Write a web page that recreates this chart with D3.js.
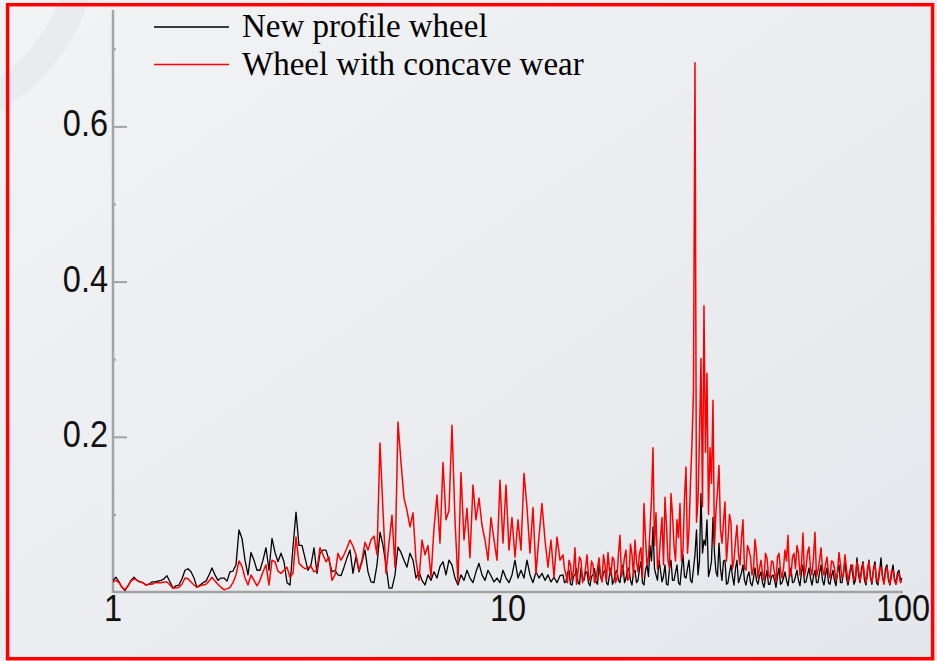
<!DOCTYPE html>
<html>
<head>
<meta charset="utf-8">
<script src="https://cdn.jsdelivr.net/npm/d3@7"></script>
<style>
    body { margin: 0; background: #eceef1; }
    .chart svg { display: block; }
</style>
</head>
<body>
<div class="chart"></div>
<script>
// frequency bins, log spaced starting at 1 Hz
const f_start = 1
const bins_per_decade = 131.67
// above this bin the spectrum also has half-step bins (dense part)
const fine_from = 150

const x_ticks = [1, 10, 100]
const y_ticks = [0.2, 0.4, 0.6]
const y_minor_ticks = [0.1, 0.3, 0.5, 0.7]
const series_names = ["New profile wheel", "Wheel with concave wear"]

const new_wheel = [
    0.015, 0.019, 0.013, 0.006, 0.002, 0.008, 0.015, 0.019, 0.015, 0.013,
    0.012, 0.009, 0.010, 0.013, 0.013, 0.014, 0.015, 0.017, 0.021, 0.013,
    0.005, 0.008, 0.009, 0.017, 0.028, 0.030, 0.026, 0.018, 0.006, 0.009,
    0.012, 0.014, 0.022, 0.031, 0.022, 0.015, 0.018, 0.018, 0.014, 0.026,
    0.027, 0.035, 0.080, 0.069, 0.041, 0.022, 0.051, 0.041, 0.028, 0.028,
    0.041, 0.057, 0.028,
    0.069, 0.051, 0.039, 0.050, 0.039, 0.012, 0.009, 0.058, 0.103, 0.060,
    0.060, 0.044, 0.028, 0.035, 0.057, 0.024, 0.050, 0.054, 0.054, 0.041,
    0.026, 0.028, 0.022, 0.021, 0.032, 0.044, 0.054, 0.024, 0.046, 0.026,
    0.039, 0.054, 0.026, 0.013, 0.012, 0.035, 0.077, 0.060, 0.035, 0.005,
    0.005, 0.022, 0.058, 0.051, 0.041, 0.032, 0.050,
    0.041, 0.018, 0.026, 0.015, 0.009, 0.022, 0.015, 0.026, 0.018, 0.033,
    0.039, 0.022, 0.041, 0.035, 0.018, 0.009, 0.022, 0.015, 0.028, 0.018,
    0.012, 0.026, 0.037, 0.022, 0.015, 0.028, 0.021, 0.013, 0.018, 0.012,
    0.028, 0.018, 0.012, 0.022, 0.041, 0.018, 0.028, 0.018, 0.041, 0.022,
    0.012, 0.026, 0.018, 0.024, 0.015, 0.022, 0.013, 0.019, 0.012, 0.021,
    0.022, 0.013, 0.028, 0.009, 0.022, 0.012, 0.031, 0.015, 0.026, 0.008,
    0.022, 0.013, 0.035, 0.015, 0.028, 0.009, 0.031, 0.015, 0.028, 0.012,
    0.035, 0.018, 0.031, 0.009, 0.028, 0.015, 0.039, 0.009, 0.035, 0.060,
    0.084, 0.022, 0.041, 0.013, 0.035, 0.009, 0.041, 0.015, 0.035, 0.009,
    0.048, 0.018, 0.041, 0.012, 0.048, 0.022, 0.127, 0.067, 0.093, 0.028,
    0.096, 0.026, 0.063, 0.015, 0.041, 0.012, 0.035, 0.009, 0.041, 0.018,
    0.035, 0.009, 0.026, 0.008, 0.031, 0.010, 0.026, 0.006, 0.028, 0.010,
    0.022, 0.006, 0.031, 0.012, 0.026, 0.008, 0.031, 0.013, 0.028, 0.008,
    0.035, 0.013, 0.031, 0.009, 0.028, 0.012, 0.035, 0.009, 0.031, 0.010,
    0.028, 0.008, 0.035, 0.012, 0.041, 0.009, 0.035, 0.010, 0.044, 0.012,
    0.039, 0.009, 0.041, 0.010, 0.039, 0.009, 0.044, 0.012, 0.035, 0.009,
    0.035, 0.010, 0.028, 0.018
]

// half-step bins from fine_from on
const new_wheel_mid = [
    0.012, 0.025, 0.010, 0.020, 0.030, 0.010, 0.018, 0.025, 0.012, 0.020,
    0.030, 0.010, 0.020, 0.025, 0.012, 0.022, 0.010, 0.025, 0.015, 0.030,
    0.012, 0.028, 0.015, 0.025, 0.012, 0.030, 0.012, 0.028, 0.020, 0.040,
    0.030, 0.015, 0.028, 0.020, 0.010, 0.030, 0.015, 0.025, 0.012, 0.030,
    0.020, 0.030, 0.015, 0.030, 0.080, 0.040, 0.050, 0.060, 0.020, 0.040,
    0.050, 0.020, 0.030, 0.040, 0.010, 0.025, 0.020, 0.030, 0.012, 0.025,
    0.015, 0.020, 0.012, 0.018, 0.015, 0.020, 0.012, 0.018, 0.010, 0.020,
    0.015, 0.020, 0.010, 0.018, 0.015, 0.022, 0.012, 0.020, 0.015, 0.025,
    0.012, 0.022, 0.018, 0.020, 0.012, 0.025, 0.015, 0.022, 0.012, 0.020,
    0.015, 0.025, 0.012, 0.025, 0.018, 0.020, 0.025, 0.015, 0.022, 0.030,
    0.015, 0.025, 0.018, 0.030, 0.012, 0.025, 0.020, 0.030, 0.015, 0.022,
    0.018, 0.025, 0.015
]

const worn_wheel = [
    0.013, 0.015, 0.012, 0.006, 0.003, 0.008, 0.014, 0.017, 0.015, 0.013,
    0.012, 0.009, 0.010, 0.010, 0.012, 0.012, 0.012, 0.013, 0.013, 0.009,
    0.005, 0.005, 0.006, 0.010, 0.018, 0.017, 0.013, 0.009, 0.006, 0.008,
    0.009, 0.010, 0.014, 0.019, 0.014, 0.010, 0.006, 0.003, 0.004, 0.006,
    0.012, 0.022, 0.040, 0.033, 0.018, 0.009, 0.022, 0.015, 0.008, 0.015,
    0.026, 0.035, 0.009,
    0.041, 0.039, 0.027, 0.024, 0.028, 0.032, 0.019, 0.024, 0.071, 0.037,
    0.033, 0.030, 0.031, 0.033, 0.026, 0.028, 0.057, 0.048, 0.039, 0.045,
    0.015, 0.022, 0.050, 0.041, 0.048, 0.057, 0.067, 0.059, 0.048, 0.028,
    0.041, 0.064, 0.054, 0.067, 0.072, 0.048, 0.192, 0.105, 0.024, 0.063,
    0.099, 0.032, 0.219, 0.167, 0.121, 0.105, 0.084,
    0.102, 0.041, 0.015, 0.067, 0.048, 0.060, 0.019, 0.082, 0.125, 0.063,
    0.167, 0.093, 0.105, 0.215, 0.093, 0.012, 0.154, 0.067, 0.108, 0.044,
    0.138, 0.093, 0.121, 0.086, 0.067, 0.041, 0.096, 0.067, 0.041, 0.144,
    0.063, 0.138, 0.054, 0.096, 0.045, 0.093, 0.054, 0.153, 0.109, 0.050,
    0.109, 0.024, 0.071, 0.114, 0.067, 0.032, 0.067, 0.019, 0.071, 0.041,
    0.048, 0.022, 0.041, 0.015, 0.057, 0.026, 0.041, 0.018, 0.048, 0.015,
    0.035, 0.018, 0.044, 0.013, 0.035, 0.051, 0.022, 0.041, 0.018, 0.073,
    0.028, 0.054, 0.018, 0.048, 0.067, 0.026, 0.057, 0.114, 0.035, 0.080,
    0.186, 0.102, 0.041, 0.096, 0.122, 0.041, 0.127, 0.060, 0.093, 0.114,
    0.054, 0.161, 0.080, 0.192, 0.682, 0.118, 0.301, 0.369, 0.282, 0.186,
    0.247, 0.105, 0.163, 0.063, 0.116, 0.067, 0.089, 0.041, 0.086, 0.035,
    0.093, 0.028, 0.054, 0.022, 0.068, 0.018, 0.041, 0.015, 0.044, 0.018,
    0.039, 0.013, 0.050, 0.018, 0.054, 0.073, 0.022, 0.050, 0.060, 0.022,
    0.076, 0.031, 0.058, 0.022, 0.077, 0.028, 0.057, 0.022, 0.045, 0.018,
    0.039, 0.015, 0.051, 0.018, 0.048, 0.013, 0.032, 0.015, 0.039, 0.013,
    0.037, 0.012, 0.039, 0.013, 0.035, 0.012, 0.032, 0.010, 0.032, 0.010,
    0.028, 0.010, 0.024, 0.015
]

const worn_wheel_mid = [
    0.030, 0.012, 0.035, 0.028, 0.010, 0.045, 0.012, 0.030, 0.020, 0.040,
    0.012, 0.030, 0.022, 0.048, 0.015, 0.028, 0.045, 0.012, 0.050, 0.020,
    0.045, 0.015, 0.062, 0.020, 0.040, 0.050, 0.018, 0.070, 0.045, 0.120,
    0.060, 0.030, 0.070, 0.035, 0.085, 0.030, 0.100, 0.040, 0.070, 0.040,
    0.120, 0.050, 0.140, 0.260, 0.090, 0.200, 0.110, 0.180, 0.100, 0.140,
    0.060, 0.130, 0.080, 0.090, 0.040, 0.100, 0.030, 0.065, 0.050, 0.070,
    0.030, 0.060, 0.045, 0.030, 0.050, 0.030, 0.025, 0.050, 0.022, 0.040,
    0.025, 0.045, 0.028, 0.030, 0.040, 0.020, 0.045, 0.030, 0.050, 0.035,
    0.020, 0.050, 0.030, 0.045, 0.020, 0.040, 0.030, 0.035, 0.025, 0.040,
    0.030, 0.025, 0.035, 0.022, 0.030, 0.025, 0.035, 0.020, 0.030, 0.025,
    0.022, 0.030, 0.020, 0.028, 0.018, 0.030, 0.020, 0.025, 0.018, 0.028,
    0.015, 0.020, 0.012
]

const ctx = {
    W: 937,
    H: 661,
    X0: 113, X1: 903,
    Y0: 592, Y1: 10,
    AXIS_COLOR: "#a3a3a3",
    colors: ["#000000", "#ff0000"],
    widths: [1.3, 1.5],
}

function create_chart() {
    const svg = d3.select(".chart")
        .append("svg")
        .attr("width", ctx.W)
        .attr("height", ctx.H)
    ctx.svg = svg

    draw_background()

    ctx.x = d3.scaleLog().domain([1, 100]).range([ctx.X0, ctx.X1])
    ctx.y = d3.scaleLinear().domain([0, 0.75]).range([ctx.Y0, ctx.Y1])

    draw_axes()
    draw_series()
    draw_legend()
}

function draw_background() {
    const grad = ctx.svg.append("defs")
        .append("linearGradient")
        .attr("id", "bg")
        .attr("x1", "0").attr("y1", "0")
        .attr("x2", "1").attr("y2", "1")
    grad.append("stop").attr("offset", "0%").attr("stop-color", "#f2f3f5")
    grad.append("stop").attr("offset", "100%").attr("stop-color", "#e4e7eb")

    ctx.svg.append("rect")
        .attr("width", ctx.W)
        .attr("height", ctx.H)
        .attr("fill", "url(#bg)")

    // faint ring in the corner
    ctx.svg.append("circle")
        .attr("cx", -100)
        .attr("cy", -60)
        .attr("r", 184)
        .attr("fill", "none")
        .attr("stroke", "#eaebee")
        .attr("stroke-width", 28)

    ctx.svg.append("rect")
        .attr("x", 7.6)
        .attr("y", 4.7)
        .attr("width", 925)
        .attr("height", 654)
        .attr("fill", "none")
        .attr("stroke", "#ff0000")
        .attr("stroke-width", 3.5)
}

function draw_axes() {
    const g = ctx.svg.append("g").attr("id", "axes")

    const y_axis = d3.axisRight(ctx.y)
        .tickValues(y_ticks)
        .tickSize(14)
        .tickFormat("")
    g.append("g")
        .attr("transform", `translate(${ctx.X0},0)`)
        .call(y_axis)
        .call(a => a.select(".domain").remove())
        .selectAll("line")
        .attr("stroke", ctx.AXIS_COLOR)
        .attr("stroke-width", 2)

    g.append("g")
        .attr("transform", `translate(${ctx.X0},0)`)
        .call(d3.axisRight(ctx.y).tickValues(y_minor_ticks).tickSize(3).tickFormat(""))
        .call(a => a.select(".domain").remove())
        .selectAll("line")
        .attr("stroke", ctx.AXIS_COLOR)
        .attr("stroke-width", 2)

    g.append("line")
        .attr("x1", ctx.X0).attr("x2", ctx.X0)
        .attr("y1", ctx.Y1).attr("y2", ctx.Y0 + 1)
        .attr("stroke", ctx.AXIS_COLOR)
        .attr("stroke-width", 2.5)

    g.append("line")
        .attr("x1", ctx.X0).attr("x2", ctx.X1)
        .attr("y1", ctx.Y0).attr("y2", ctx.Y0)
        .attr("stroke", ctx.AXIS_COLOR)
        .attr("stroke-width", 2.5)

    const label_font = "'Liberation Sans', Arial, sans-serif"

    g.selectAll(".y-label")
        .data(y_ticks)
        .enter()
        .append("text")
        .attr("class", "y-label")
        .attr("transform", d => `translate(${ctx.X0 - 5},${ctx.y(d) + 10}) scale(1,1.15)`)
        .attr("text-anchor", "end")
        .attr("font-family", label_font)
        .attr("font-size", 32.5)
        .attr("fill", "#111")
        .text(d => d.toFixed(1))

    g.selectAll(".x-label")
        .data(x_ticks)
        .enter()
        .append("text")
        .attr("class", "x-label")
        .attr("transform", d => `translate(${ctx.x(d)},${ctx.Y0 + 29}) scale(1,1.15)`)
        .attr("text-anchor", "middle")
        .attr("font-family", label_font)
        .attr("font-size", 32.5)
        .attr("fill", "#111")
        .text(d => d)
}

function bin_freq(i) {
    return f_start * Math.pow(10, i / bins_per_decade)
}

function build_points(vals, mids) {
    let pts = vals.map((v, i) => [bin_freq(i), v])
    mids.forEach((v, k) => pts.push([bin_freq(fine_from + k + 0.5), v]))
    return pts.sort((a, b) => a[0] - b[0])
}

function draw_series() {
    const line = d3.line()
        .x(d => ctx.x(d[0]))
        .y(d => ctx.y(d[1]))

    const all = [build_points(new_wheel, new_wheel_mid), build_points(worn_wheel, worn_wheel_mid)]
    ctx.svg.append("g")
        .attr("id", "series")
        .selectAll("path")
        .data(all)
        .enter()
        .append("path")
        .attr("d", line)
        .attr("fill", "none")
        .attr("stroke", (d, i) => ctx.colors[i])
        .attr("stroke-width", (d, i) => ctx.widths[i])
        .attr("stroke-linejoin", "round")
}

function draw_legend() {
    const g = ctx.svg.append("g").attr("id", "legend")
    const rows = g.selectAll("g")
        .data(series_names)
        .enter()
        .append("g")
        .attr("transform", (d, i) => `translate(154,${27 + i * 37.5})`)

    rows.append("line")
        .attr("x1", 0).attr("x2", 75)
        .attr("stroke", (d, i) => ctx.colors[i])
        .attr("stroke-width", 1.3)

    rows.append("text")
        .attr("x", 88)
        .attr("y", 10)
        .attr("font-family", "'Liberation Serif', 'Times New Roman', serif")
        .attr("font-size", 33)
        .attr("fill", "#000")
        .text(d => d)
}

create_chart()
</script>
</body>
</html>
